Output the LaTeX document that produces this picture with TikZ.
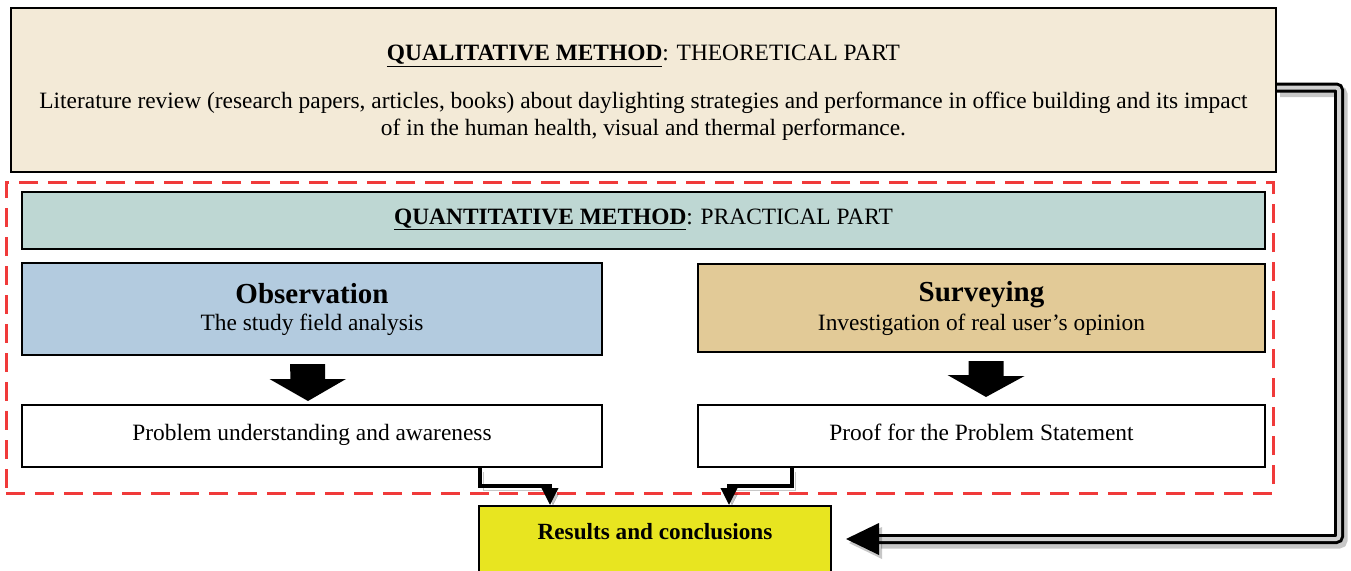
\documentclass[tikz,border=0pt]{standalone}
\usepackage{fontspec}
\setmainfont{Liberation Serif}
\usetikzlibrary{arrows.meta,calc}
\definecolor{creambox}{HTML}{F3EAD7}
\definecolor{tealbox}{HTML}{BED7D3}
\definecolor{bluebox}{HTML}{B3CBDF}
\definecolor{tanbox}{HTML}{E2CA97}
\definecolor{yellowbox}{HTML}{E8E520}
\definecolor{framered}{HTML}{F03A3A}
\tikzset{
  box/.style={draw=black, line width=2pt, inner sep=0pt, align=center,
    font=\fontsize{23.4}{27}\selectfont},
  bodytext/.style={inner sep=0pt, align=center, font=\fontsize{23.4}{27}\selectfont},
  onerow/.style={text height=16pt, text depth=8pt},
  frame/.style={draw=framered, line width=3pt, dash pattern=on 19pt off 10pt,
    inner sep=0pt},
  shadowed/.style={preaction={draw=black, opacity=.22,
    transform canvas={shift={(3pt,-4pt)}}}},
  link/.style={draw=black, line width=3.5pt, shadowed,
    -{Triangle[length=17pt,width=16pt]}},
  dbl/.style={draw=black, line width=3pt, double=black!18, double distance=4pt,
    rounded corners=3pt,
    preaction={draw=black, opacity=.22, line width=11pt, rounded corners=3pt,
      transform canvas={shift={(3pt,-4pt)}}}},
  blockarrow/.style={fill=black}
}
\begin{document}
\begin{tikzpicture}[x=1pt,y=-1pt]
\useasboundingbox (0,0) rectangle (1351,570);
\fill[white] (0,0) rectangle (1351,570);

% theoretical part
\node[box, fill=creambox, minimum width=1265, minimum height=164] (top) at (643.5,90) {};
\node[bodytext] (toptext) at ($(top.center)+(0,3)$)
  {\underline{\textbf{QUALITATIVE METHOD}}: THEORETICAL PART\\[21pt]
   Literature review (research papers, articles, books) about daylighting strategies and performance in office building and its impact\\
   of in the human health, visual and thermal performance.};

% practical part frame
\node[frame, minimum width=1267, minimum height=311] (quant) at (639.5,337.5) {};

\node[box, onerow, fill=tealbox, minimum width=1243, minimum height=57] (qhead) at (643.5,220.5)
  {\underline{\textbf{QUANTITATIVE METHOD}}: PRACTICAL PART};

\node[box, fill=bluebox, minimum width=580, minimum height=92] (obs) at (312,309)
  {{\fontsize{29}{30}\selectfont\bfseries Observation}\\[0pt] The study field analysis};
\node[box, fill=tanbox, minimum width=567, minimum height=88] (surv) at (981.5,308)
  {{\fontsize{29}{30}\selectfont\bfseries Surveying}\\[2pt] Investigation of real user’s opinion};

\node[box, onerow, fill=white, minimum width=580, minimum height=62]
  (prob) at (312,436) {Problem understanding and awareness};
\node[box, onerow, fill=white, minimum width=567, minimum height=62]
  (proof) at (981.5,436) {Proof for the Problem Statement};

% block arrows between the method boxes and their outcomes
\fill[blockarrow] ($(obs.south)+(-22,8)$) -- ++(35,0) -- ++(0,15) -- ++(21,0)
  -- ($(prob.north)+(-4,-3)$) -- ++(-38.5,-22) -- ++(21,0) -- cycle;
\fill[blockarrow] ($(surv.south)+(-13,8)$) -- ++(35,0) -- ++(0,15) -- ++(21,0)
  -- ($(proof.north)+(4.5,-7)$) -- ++(-38.5,-22) -- ++(21,0) -- cycle;

% results
\node[box, fill=yellowbox, minimum width=352, minimum height=90, anchor=north] (res) at (655,505) {};
\node[font=\fontsize{23.2}{27}\selectfont\bfseries] (restxt) at ($(res.north)+(0,27)$) {Results and conclusions};

% outcome links into the results
\draw[link] ([xshift=459]prob.south west) -- ++(0,18) -| ([xshift=72]res.north west);
\draw[link] ([xshift=95]proof.south west) -- ++(0,18) -| ([xshift=251]res.north west);

% feedback from theory to results
\coordinate (dtip) at ($(res.north east)+(14,34)$);
\draw[dbl] ([yshift=2.5]top.east) -- ++(62,0) |- ($(dtip)+(32,0)$);
\fill[black, opacity=.22] ($(dtip)+(3,4)$) -- ++(33,-16) -- ++(0,32) -- cycle;
\fill[black] (dtip) -- ++(33,-16) -- ++(0,32) -- cycle;
\end{tikzpicture}
\end{document}
